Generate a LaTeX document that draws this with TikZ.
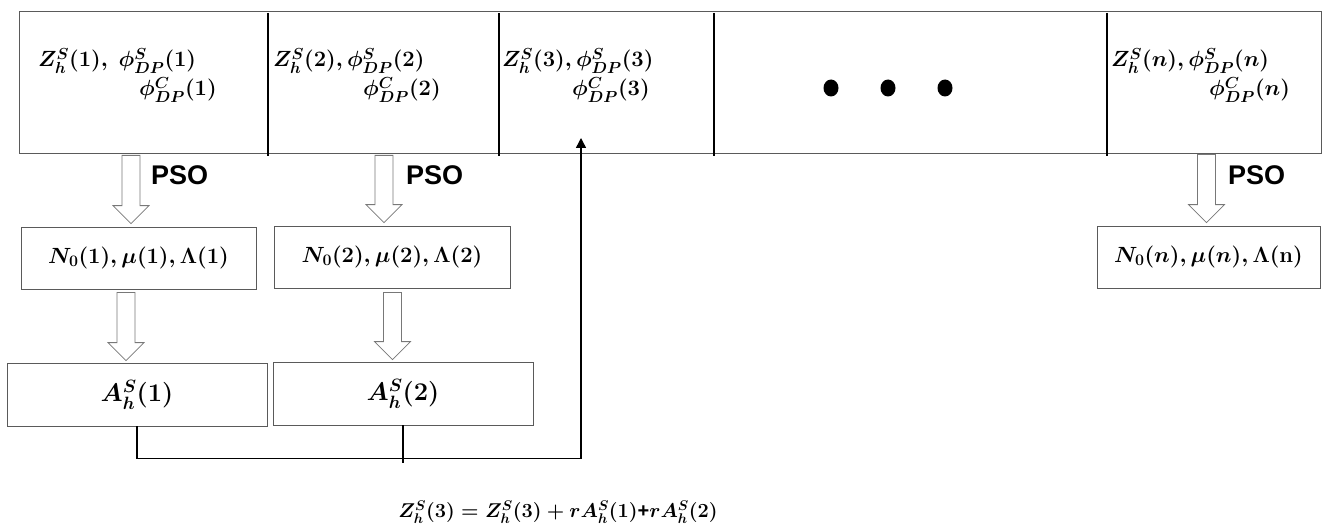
\RequirePackage{fix-cm}
\documentclass[tikz,border=0pt]{standalone}
\usepackage{fontspec}
\newfontfamily\psofont{Liberation Sans}
\usetikzlibrary{calc,arrows.meta}

% slightly larger scripts for the segment labels
\DeclareMathSizes{22}{22}{16}{12}

\definecolor{boxgray}{RGB}{90,90,90}
\definecolor{arrowgray}{RGB}{120,120,120}

% hollow block arrow pointing down, from #1 (tail) to #2 (tip)
\newcommand\hollowdown[2]{%
  \draw[hollow] let \p1=(#1), \p2=(#2) in
    (\x1-9pt,\y1) -- (\x1-9pt,\y2+18pt) -- (\x1-18pt,\y2+18pt) -- (\x1,\y2)
    -- (\x1+18pt,\y2+18pt) -- (\x1+9pt,\y2+18pt) -- (\x1+9pt,\y1) -- cycle;}

\begin{document}
\begin{tikzpicture}[x=1pt,y=-1pt,
  mathfont/.style={font=\boldmath\fontsize{#1}{#1}\selectfont},
  outer/.style={draw=boxgray,line width=0.8pt,inner sep=0pt},
  result/.style={draw=boxgray,line width=0.8pt,inner sep=0pt,mathfont=#1},
  celltext/.style={anchor=base west,inner sep=0pt,mathfont=22},
  divider/.style={line width=1.3pt,black},
  hollow/.style={draw=arrowgray,fill=white,line width=0.8pt},
  link/.style={line width=1.4pt,black},
  psolabel/.style={anchor=west,inner sep=0pt,font=\psofont\bfseries\fontsize{27}{30}\selectfont},
  dot/.style={fill=black,draw=none}]

\useasboundingbox (0,0) rectangle (1334,532);

% the row of segments
\node[outer,minimum width=1302pt,minimum height=142pt] (topbox) at (670,82) {};
\foreach \xd in {268,499,714,1107}
  \draw[divider] (\xd,13) -- (\xd,156);

\node[celltext] (c1a) at (38,67) {$Z_h^S(1),\ \phi_{DP}^S(1)$};
\node[celltext] (c1b) at (139,96) {$\phi_{DP}^C(1)$};
\node[celltext] (c2a) at (273,67) {$Z_h^S(2),\phi_{DP}^S(2)$};
\node[celltext] (c2b) at (363,96) {$\phi_{DP}^C(2)$};
\node[celltext] (c3a) at (502,67) {$Z_h^S(3),\phi_{DP}^S(3)$};
\node[celltext] (c3b) at (572,96) {$\phi_{DP}^C(3)$};
\node[celltext] (cna) at (1111,67) {$Z_h^S(n),\phi_{DP}^S(n)$};
\node[celltext] (cnb) at (1209,96) {$\phi_{DP}^C(n)$};

\foreach \xd in {831,888,945}
  \fill[dot] (\xd,88) ellipse [x radius=7.5pt,y radius=8.5pt];

% fitted parameters
\node[result=22,minimum width=235pt,minimum height=62pt] (n01) at (138.5,258) {$N_0(1),\mu(1),\Lambda(1)$};
\node[result=22,minimum width=236pt,minimum height=62pt] (n02) at (392,257) {$N_0(2),\mu(2),\Lambda(2)$};
\node[result=22,minimum width=223pt,minimum height=62pt] (n0n) at (1208.5,257) {$N_0(n),\mu(n),\Lambda(\mathbf{n})$};

% attenuation results
\node[result=25.5,minimum width=260pt,minimum height=63pt] (A1) at (137,394.5) {$A_h^S(1)$};
\node[result=25.5,minimum width=260pt,minimum height=63pt] (A2) at (403,393.5) {$A_h^S(2)$};

% block arrows
\coordinate (x1) at (131,0);
\coordinate (x2) at (126,0);
\coordinate (x3) at (384,0);
\coordinate (x4) at (392.5,0);
\coordinate (x5) at (1206.5,0);
\path (x1 |- topbox.south) ++(0,2) coordinate (s1);
\path (x1 |- n01.north) ++(0,-3) coordinate (e1);
\path (x2 |- n01.south) ++(0,3) coordinate (s2);
\path (x2 |- A1.north) ++(0,-2) coordinate (e2);
\path (x3 |- topbox.south) ++(0,2) coordinate (s3);
\path (x3 |- n02.north) ++(0,-3) coordinate (e3);
\path (x4 |- n02.south) ++(0,4) coordinate (s4);
\path (x4 |- A2.north) ++(0,-2) coordinate (e4);
\path (x5 |- topbox.south) ++(0,1) coordinate (s5);
\path (x5 |- n0n.north) ++(0,-3) coordinate (e5);
\hollowdown{s1}{e1}
\hollowdown{s2}{e2}
\hollowdown{s3}{e3}
\hollowdown{s4}{e4}
\hollowdown{s5}{e5}

\node[psolabel] (pso1) at (151,175) {PSO};
\node[psolabel] (pso2) at (406,175) {PSO};
\node[psolabel] (pson) at (1228,175) {PSO};

% feedback into segment 3
\coordinate (tgt) at (581,138);
\draw[link,-{Triangle[length=10pt,width=10pt]}] (A1.south) -- ++(0,32) -| (tgt);
\draw[link] (A2.south) -- ++(0,38);

\node[mathfont=20,inner sep=0pt] (eq) at (558,512)
  {$Z_h^S(3)=Z_h^S(3)+rA_h^S(1)\mbox{\psofont\bfseries +}rA_h^S(2)$};

\end{tikzpicture}
\end{document}
